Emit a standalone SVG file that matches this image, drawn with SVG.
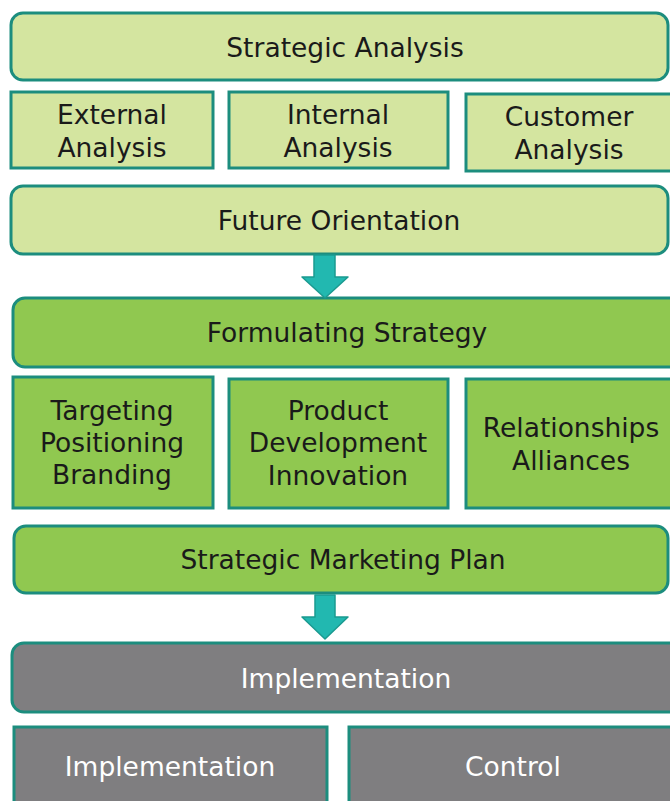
<svg xmlns="http://www.w3.org/2000/svg" width="670" height="801" viewBox="0 0 670 801">
<style>
.lt{fill:#d4e5a0;stroke:#1c8d7e;stroke-width:3}
.md{fill:#90c850;stroke:#1c8d7e;stroke-width:3}
.gy{fill:#7f7e80;stroke:#1c8d7e;stroke-width:3}
.t{font-family:"DejaVu Sans",Verdana,sans-serif;font-size:26.5px;fill:#1a1a1a;text-anchor:middle}
.w{fill:#ffffff}
.ar{fill:#22b8b0;stroke:#1a9a90;stroke-width:1.5;stroke-linejoin:round}
</style>
<rect width="670" height="801" fill="#ffffff"/>
<g id="strategic-analysis"><rect class="lt" x="11" y="13" width="657" height="67" rx="12"/><text class="t" x="345" y="57">Strategic Analysis</text></g>
<g id="external-analysis"><rect class="lt" x="11" y="92" width="202" height="76"/><text class="t" x="112" y="124">External</text><text class="t" x="112" y="157">Analysis</text></g>
<g id="internal-analysis"><rect class="lt" x="229" y="92" width="219" height="76"/><text class="t" x="338" y="124">Internal</text><text class="t" x="338" y="157">Analysis</text></g>
<g id="customer-analysis"><rect class="lt" x="466" y="94" width="210" height="77"/><text class="t" x="569" y="126">Customer</text><text class="t" x="569" y="159">Analysis</text></g>
<g id="future-orientation"><rect class="lt" x="11" y="186" width="657" height="68" rx="12"/><text class="t" x="339" y="230">Future Orientation</text></g>
<g id="formulating-strategy"><rect class="md" x="13" y="298" width="670" height="69" rx="12"/><text class="t" x="347" y="342">Formulating Strategy</text></g>
<g id="targeting"><rect class="md" x="13" y="377" width="200" height="131"/><text class="t" x="112" y="420">Targeting</text><text class="t" x="112" y="452">Positioning</text><text class="t" x="112" y="484">Branding</text></g>
<g id="product"><rect class="md" x="229" y="379" width="219" height="129"/><text class="t" x="338" y="420">Product</text><text class="t" x="338" y="452">Development</text><text class="t" x="338" y="485">Innovation</text></g>
<g id="relationships"><rect class="md" x="466" y="379" width="210" height="129"/><text class="t" x="571" y="437">Relationships</text><text class="t" x="571" y="470">Alliances</text></g>
<g id="strategic-marketing-plan"><rect class="md" x="14" y="526" width="654" height="67" rx="12"/><text class="t" x="343" y="569">Strategic Marketing Plan</text></g>
<g id="implementation"><rect class="gy" x="12" y="643" width="670" height="69" rx="12"/><text class="t w" x="346" y="688">Implementation</text></g>
<g id="implementation-sub"><rect class="gy" x="14" y="727" width="313" height="90"/><text class="t w" x="170" y="776">Implementation</text></g>
<g id="control"><rect class="gy" x="349" y="727" width="330" height="90"/><text class="t w" x="513" y="776">Control</text></g>
<g id="connectors">
<path class="ar" d="M314,255 L335,255 L335,277 L348,277 L325,298 L302,277 L314,277 Z"/>
<path class="ar" d="M315,595 L335,595 L335,617 L348,617 L325,639 L302,617 L315,617 Z"/>
</g>
</svg>
